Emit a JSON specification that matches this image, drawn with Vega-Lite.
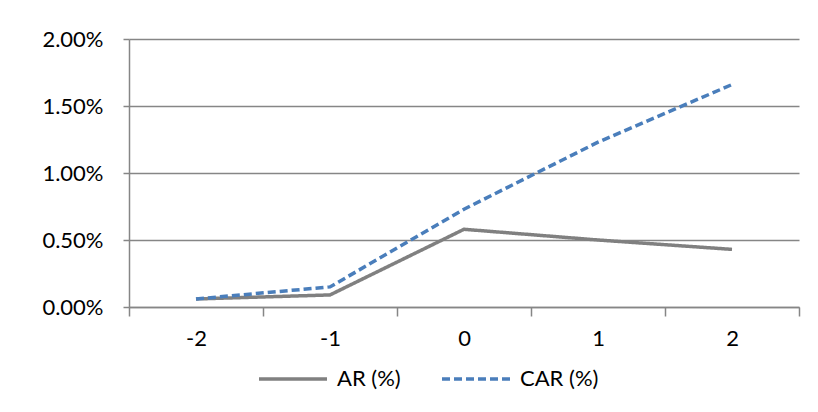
{
  "$schema": "https://vega.github.io/schema/vega-lite/v6.json",
  "width": 670,
  "height": 268,
  "autosize": {"type": "none"},
  "padding": {"left": 129, "top": 39, "right": 19, "bottom": 105},
  "background": "white",
  "config": {"view": {"stroke": null}, "font": "Lato"},
  "data": {
    "values": [
      {"day": "-2", "series": "AR (%)", "value": 0.0006},
      {"day": "-1", "series": "AR (%)", "value": 0.0009},
      {"day": "0", "series": "AR (%)", "value": 0.0058},
      {"day": "1", "series": "AR (%)", "value": 0.005},
      {"day": "2", "series": "AR (%)", "value": 0.0043},
      {"day": "-2", "series": "CAR (%)", "value": 0.0006},
      {"day": "-1", "series": "CAR (%)", "value": 0.0015},
      {"day": "0", "series": "CAR (%)", "value": 0.0073},
      {"day": "1", "series": "CAR (%)", "value": 0.0123},
      {"day": "2", "series": "CAR (%)", "value": 0.0166}
    ]
  },
  "mark": {"type": "line", "strokeWidth": 3.5},
  "encoding": {
    "x": {
      "field": "day",
      "type": "ordinal",
      "scale": {"type": "band", "domain": ["-2", "-1", "0", "1", "2"], "paddingInner": 0, "paddingOuter": 0},
      "axis": {
        "title": null,
        "labelAngle": 0,
        "tickBand": "extent",
        "grid": false,
        "domainColor": "#868686",
        "domainWidth": 1.5,
        "tickColor": "#868686",
        "tickWidth": 1.5,
        "tickSize": 9,
        "labelPadding": 12,
        "labelFont": "Lato",
        "labelFontSize": 22,
        "labelColor": "#000000"
      }
    },
    "y": {
      "field": "value",
      "type": "quantitative",
      "scale": {"domain": [0, 0.02], "nice": false},
      "axis": {
        "title": null,
        "values": [0, 0.005, 0.01, 0.015, 0.02],
        "format": ".2%",
        "grid": true,
        "gridColor": "#868686",
        "gridWidth": 1.5,
        "domainColor": "#868686",
        "domainWidth": 1.5,
        "tickColor": "#868686",
        "tickWidth": 1.5,
        "tickSize": 6,
        "labelPadding": 20,
        "labelFont": "Lato",
        "labelFontSize": 22,
        "labelColor": "#000000"
      }
    },
    "color": {
      "field": "series",
      "type": "nominal",
      "scale": {"domain": ["AR (%)", "CAR (%)"], "range": ["#808080", "#4A7EBB"]},
      "legend": {
        "title": null,
        "orient": "none",
        "direction": "horizontal",
        "legendX": 128,
        "legendY": 304,
        "symbolType": "stroke",
        "symbolSize": 4624,
        "symbolStrokeWidth": 3.5,
        "labelFont": "Lato",
        "labelFontSize": 22,
        "labelColor": "#000000",
        "labelOffset": 8,
        "columnPadding": 34
      }
    },
    "strokeDash": {
      "field": "series",
      "type": "nominal",
      "scale": {"domain": ["AR (%)", "CAR (%)"], "range": [[1, 0], [8, 4]]},
      "legend": {
        "title": null,
        "orient": "none",
        "direction": "horizontal",
        "legendX": 128,
        "legendY": 304,
        "symbolType": "stroke",
        "symbolSize": 4624,
        "symbolStrokeWidth": 3.5,
        "labelFont": "Lato",
        "labelFontSize": 22,
        "labelColor": "#000000",
        "labelOffset": 8,
        "columnPadding": 34
      }
    }
  }
}
